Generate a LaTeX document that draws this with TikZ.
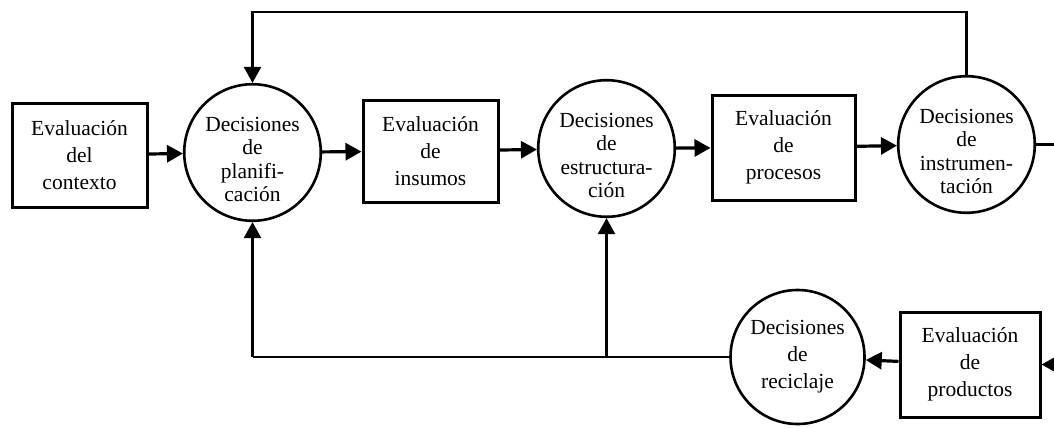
\documentclass[tikz,border=0pt]{standalone}
\usepackage{fontspec}
\setmainfont{Liberation Serif}
\usetikzlibrary{arrows.meta}
\newcommand{\tshift}{\rule{0pt}{28pt}}
\tikzset{
  evalbox/.style={draw, line width=3pt, rectangle, align=center, inner sep=0pt,
    font=\fontsize{21.5}{27}\selectfont},
  decnode/.style={draw, line width=2.6pt, circle, align=center, inner sep=0pt,
    font=\fontsize{21.5}{23.5}\selectfont},
  flow/.style={line width=3.2pt, -{Triangle[length=16pt,width=17pt]}},
  plain/.style={line width=3.2pt},
  fb/.style={line width=2.4pt},
  fbarrow/.style={line width=2.4pt, -{Triangle[length=16pt,width=17pt]}}
}
\begin{document}
\begin{tikzpicture}[x=1pt,y=-1pt]
\useasboundingbox (0,0) rectangle (1054,428);
\node[evalbox, minimum width=135pt, minimum height=104pt] (ctx) at (79.5,155) {Evaluación\\del\\contexto};
\node[decnode, minimum size=135pt] (plan) at (252.5,152.5) {\tshift Decisiones\\de\\planifi-\\cación};
\node[evalbox, minimum width=135pt, minimum height=102pt] (ins) at (430.5,151) {Evaluación\\de\\insumos};
\node[decnode, minimum size=134pt] (est) at (606.5,148.5) {\tshift Decisiones\\de\\estructura-\\ción};
\node[evalbox, minimum width=143pt, minimum height=105pt] (proc) at (783.5,147.5) {Evaluación\\de\\procesos};
\node[decnode, minimum size=134pt] (inst) at (966.5,144.5) {\tshift Decisiones\\de\\instrumen-\\tación};
\node[evalbox, minimum width=140pt, minimum height=105pt] (prod) at (970,364.5) {Evaluación\\de\\productos};
\node[decnode, minimum size=134pt, font=\fontsize{21.5}{27}\selectfont] (rec) at (797.5,357) {Decisiones\\de\\reciclaje};
\coordinate (topy) at (0,12);
\coordinate (rx) at (1054,0);
% main flow
\draw[flow] (ctx) -- (plan);
\draw[flow] (plan) -- (ins);
\draw[flow] (ins) -- (est);
\draw[flow] (est) -- (proc);
\draw[flow] (proc) -- (inst);
\draw[plain] (inst.east) -- (inst.east -| rx);
\draw[flow] (prod.east -| rx) -- (prod.east);
\draw[flow] (prod) -- (rec);
% top feedback
\draw[fbarrow] (inst.north) -- (inst.north |- topy) -| (plan.north);
% bottom feedback
\coordinate (bl) at (rec.west -| plan.south);
\draw[fb] (rec.west) -- (bl);
\draw[fbarrow] (bl) -- (plan.south);
\draw[fbarrow] (rec.west -| est.south) -- (est.south);
\end{tikzpicture}
\end{document}
